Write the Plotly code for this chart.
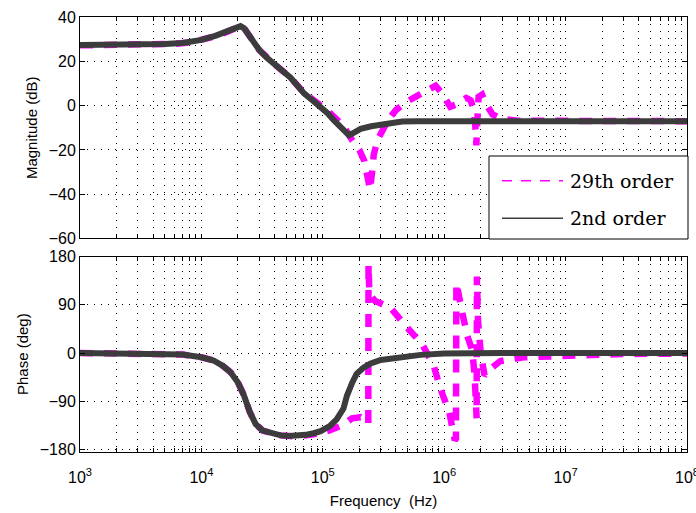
import plotly.graph_objects as go

# ---------------- data ----------------
# Magnitude, 2nd order model
freq_mag_2nd = [1e3, 3e3, 5e3, 7e3, 1e4, 1.3e4, 1.6e4, 1.9e4, 2.1e4, 2.25e4, 2.5e4,
                3e4, 3.5e4, 4e4, 4.7e4, 5.4e4, 6.2e4, 7e4, 8.2e4, 9.6e4, 1.1e5,
                1.23e5, 1.4e5, 1.55e5, 1.64e5, 1.75e5, 1.9e5, 2.05e5, 2.5e5, 3.4e5,
                4.5e5, 6e5, 1e6, 1e7, 1e8]
mag_2nd = [27.5, 27.6, 27.9, 28.4, 29.8, 31.6, 33.5, 35.3, 36.0, 35.0, 31.0,
           25.2, 21.5, 18.8, 15.5, 12.8, 9.0, 5.6, 2.5, -0.4, -3.5,
           -6.5, -10.0, -12.5, -13.3, -12.6, -11.5, -10.5, -9.3, -7.9,
           -7.2, -7.0, -7.0, -7.0, -7.0]

# Magnitude, 29th order model
freq_mag_29 = [1e3, 2e3, 4e3, 6e3, 8e3, 1e4, 1.3e4, 1.6e4, 1.9e4, 2.1e4, 2.25e4, 2.5e4,
               3e4, 4e4, 5.4e4, 7e4, 9.6e4, 1.08e5, 1.35e5, 1.55e5, 1.74e5, 2.0e5,
               2.2e5, 2.35e5, 2.45e5, 2.55e5, 2.63e5, 2.85e5, 3.1e5, 3.5e5, 4e5,
               4.8e5, 5.8e5, 7e5, 8.5e5, 9.5e5, 1.05e6, 1.12e6, 1.25e6, 1.4e6,
               1.52e6, 1.65e6, 1.76e6, 1.82e6, 1.84e6, 1.87e6, 1.92e6, 2.05e6,
               2.2e6, 2.5e6, 3e6, 4e6, 1e7, 1e8]
mag_29 = [27.3, 27.3, 27.6, 28.0, 28.6, 29.8, 31.4, 33.3, 35.2, 36.0, 35.0, 31.0,
          25.2, 18.8, 12.8, 5.8, 0.3, -2.0, -7.0, -11.0, -15.5, -20.0,
          -25.0, -32.0, -38.0, -30.0, -22.0, -15.0, -11.0, -6.0, -2.0,
          1.5, 4.0, 6.5, 9.0, 6.0, 2.0, -0.5, 0.5, 2.5,
          3.5, 2.5, -2.0, -12.0, -18.0, -8.0, 4.0, 5.0,
          1.0, -4.0, -6.0, -6.8, -7.0, -7.0]

# Phase, 2nd order model
freq_ph_2nd = [1e3, 3e3, 5e3, 7e3, 1e4, 1.26e4, 1.5e4, 1.74e4, 2.0e4, 2.24e4, 2.5e4,
               2.8e4, 3.2e4, 3.8e4, 4.5e4, 5.3e4, 6.2e4, 7.2e4, 8.4e4, 9.6e4,
               1.15e5, 1.3e5, 1.48e5, 1.58e5, 1.75e5, 1.9e5, 2.15e5, 2.45e5, 3e5,
               3.85e5, 6.4e5, 1e6, 3e6, 1e8]
phase_2nd = [0, -1, -2, -3, -8, -14, -24, -36, -55, -79, -110,
             -133, -145, -151, -154, -155, -155, -153, -150, -146,
             -136, -124, -104, -80, -55, -39, -28, -20, -13,
             -9, -3.5, -1, 0, 0]

# Phase, 29th order model
freq_ph_29 = [1e3, 3e3, 5e3, 7e3, 1e4, 1.26e4, 1.5e4, 1.74e4, 2.0e4, 2.24e4, 2.5e4,
              2.8e4, 3.2e4, 4.5e4, 6.2e4, 8.4e4, 1.12e5, 1.45e5, 1.74e5, 2.05e5,
              2.3e5, 2.37e5, 2.38e5, 2.42e5, 2.7e5, 3.6e5, 4.8e5, 6.6e5, 8.2e5,
              9.3e5, 1.1e6, 1.22e6, 1.25e6, 1.26e6, 1.3e6, 1.41e6, 1.55e6, 1.7e6,
              1.78e6, 1.85e6, 1.86e6, 1.9e6, 2.0e6, 2.15e6, 2.4e6, 2.9e6, 4.5e6,
              1.2e7, 3e7, 1e8]
phase_29 = [0, -1, -2, -3, -8, -14, -24, -36, -55, -79, -110,
            -133, -145, -154, -156, -152, -145, -135, -122, -120,
            -126, -132, 165, 110, 97, 85, 51, 16, -24,
            -67, -110, -163, -160, 131, 110, 75, 32, 5,
            -40, -122, 143, 60, 0, -42, -30, -15, -8,
            -4, -2, -1]

# Axis ticks / labels
mag_ticks = [-60, -40, -20, 0, 20, 40]
phase_ticks = [-180, -90, 0, 90, 180]
decades = [3, 4, 5, 6, 7, 8]
legend_labels = ["29th order", "2nd order"]

# ---------------- styling ----------------
W, H = 696, 513
MAGENTA = "#ff00ff"
DARK = "#3c3c3c"
GRID = dict(showgrid=True, gridcolor="#000000", gridwidth=1, griddash="1px,6px")
FONT = "Liberation Sans, Arial, sans-serif"
TICKFONT = dict(family=FONT, size=16, color="#000")
TITLEFONT = dict(family=FONT, size=15, color="#000")

x_tickvals = []
x_ticktext = []
for d in decades:
    for k in range(1, 10):
        if d == decades[-1] and k > 1:
            break
        x_tickvals.append(k * 10 ** d)
        x_ticktext.append(f"10<sup>{d}</sup>" if k == 1 else "")


def px_x(p):
    return p / W


def px_y(p):
    return 1 - p / H


fig = go.Figure()

fig.add_trace(go.Scatter(x=freq_mag_29, y=mag_29, mode="lines", xaxis="x", yaxis="y",
                         line=dict(color=MAGENTA, width=6.5, dash="13px,11px"),
                         name=legend_labels[0], showlegend=False))
fig.add_trace(go.Scatter(x=freq_mag_2nd, y=mag_2nd, mode="lines", xaxis="x", yaxis="y",
                         line=dict(color=DARK, width=6),
                         name=legend_labels[1], showlegend=False))
fig.add_trace(go.Scatter(x=freq_ph_29, y=phase_29, mode="lines", xaxis="x2", yaxis="y2",
                         line=dict(color=MAGENTA, width=6.5, dash="13px,11px"),
                         name=legend_labels[0], showlegend=False))
fig.add_trace(go.Scatter(x=freq_ph_2nd, y=phase_2nd, mode="lines", xaxis="x2", yaxis="y2",
                         line=dict(color=DARK, width=6),
                         name=legend_labels[1], showlegend=False))

x_dom = [px_x(80), px_x(687)]
common_x = dict(type="log", range=[3, 8], domain=x_dom, tickvals=x_tickvals,
                ticks="inside", ticklen=4, tickcolor="#000", mirror="allticks",
                showline=True, linecolor="#000", linewidth=1, zeroline=False,
                automargin=False,
                tickfont=TICKFONT, ticklabeloverflow="allow", **GRID)
common_y = dict(ticks="inside", ticklen=5, tickcolor="#000", mirror="allticks",
                showline=True, linecolor="#000", linewidth=1, zeroline=False,
                automargin=False,
                tickfont=TICKFONT, **GRID)

fig.update_layout(
    width=W, height=H,
    margin=dict(l=0, r=0, t=0, b=0, autoexpand=False),
    paper_bgcolor="white", plot_bgcolor="white",
    showlegend=False,
    xaxis=dict(anchor="y", showticklabels=False, **common_x),
    xaxis2=dict(anchor="y2", matches="x", ticktext=x_ticktext, ticklabelstandoff=11,
                title=dict(text="Frequency  (Hz)", font=TITLEFONT, standoff=10),
                **common_x),
    yaxis=dict(anchor="x", domain=[px_y(238.3), px_y(17.3)], range=[-60, 40],
               tickvals=mag_ticks,
               title=dict(text="Magnitude (dB)", font=TITLEFONT, standoff=7),
               **common_y),
    yaxis2=dict(anchor="x2", domain=[px_y(451.7), px_y(256.7)], range=[-184.5, 180],
                tickvals=phase_ticks,
                title=dict(text="Phase (deg)", font=TITLEFONT, standoff=7),
                **common_y),
)

# Legend box (drawn in paper coordinates, like the MATLAB legend)
lx0, lx1, ly0, ly1 = 489, 688, 156, 239
row_y = [180.7, 218.3]
sample_x = [502, 563]
fig.add_shape(type="rect", xref="paper", yref="paper",
              x0=px_x(lx0), x1=px_x(lx1), y0=px_y(ly1), y1=px_y(ly0),
              fillcolor="white", line=dict(color="#000", width=1), layer="above")
legend_styles = [dict(color=MAGENTA, width=1.5, dash="10px,9px"),
                 dict(color=DARK, width=1.5)]
for lab, ry, st in zip(legend_labels, row_y, legend_styles):
    fig.add_shape(type="line", xref="paper", yref="paper",
                  x0=px_x(sample_x[0]), x1=px_x(sample_x[1]), y0=px_y(ry), y1=px_y(ry),
                  line=st, layer="above")
    fig.add_annotation(xref="paper", yref="paper", x=px_x(568), y=px_y(ry),
                       xanchor="left", yanchor="middle", showarrow=False, text=lab,
                       font=dict(family="DejaVu Serif, serif", size=19, color="#000"))

fig.write_html("out.html")
